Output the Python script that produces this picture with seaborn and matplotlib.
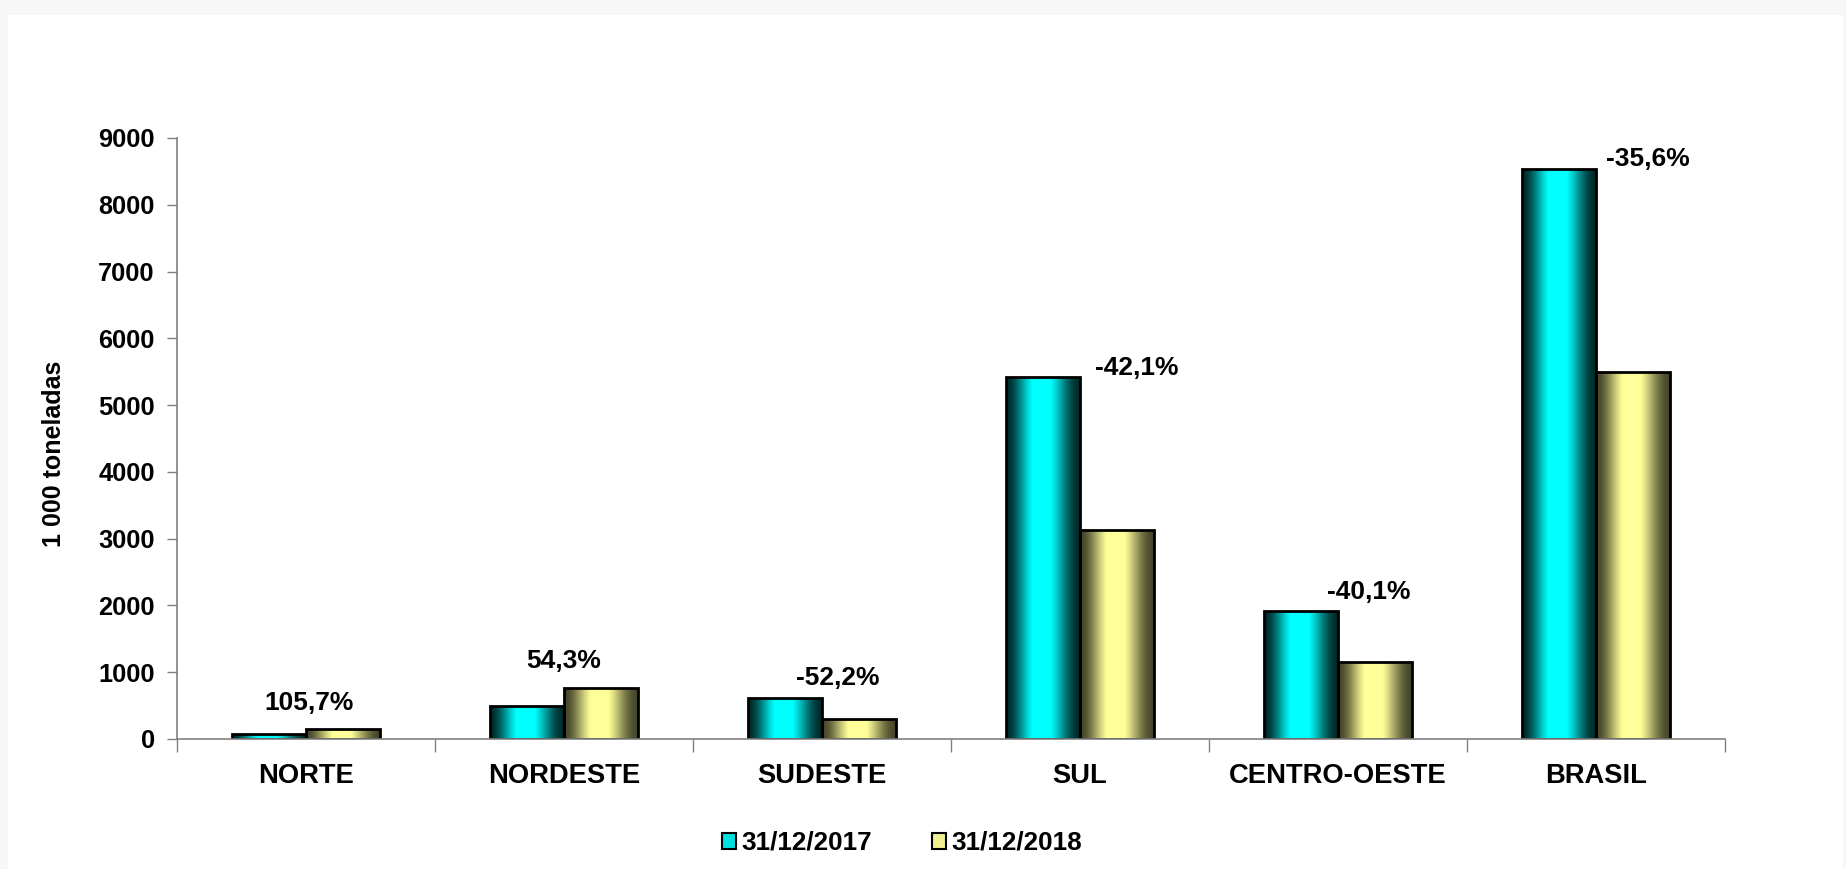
import numpy as np
import pandas as pd
import matplotlib
matplotlib.use("Agg")
import matplotlib.pyplot as plt
import seaborn as sns
from matplotlib.colors import LinearSegmentedColormap
from matplotlib.patches import Rectangle

regions = ["NORTE", "NORDESTE", "SUDESTE", "SUL", "CENTRO-OESTE", "BRASIL"]
stocks_2017 = [70, 493, 616, 5423, 1920, 8539]
stocks_2018 = [144, 761, 294, 3134, 1150, 5493]
series = ["31/12/2017", "31/12/2018"]
changes = ["105,7%", "54,3%", "-52,2%", "-42,1%", "-40,1%", "-35,6%"]

df = pd.DataFrame({
    "regiao": regions * 2,
    "data": [series[0]] * len(regions) + [series[1]] * len(regions),
    "valor": stocks_2017 + stocks_2018,
})

sns.set_style("white")
plt.rcParams["font.family"] = ["Liberation Sans", "DejaVu Sans"]
plt.rcParams["font.weight"] = "bold"
plt.rcParams["text.color"] = "black"
plt.rcParams["axes.labelcolor"] = "black"
plt.rcParams["xtick.labelcolor"] = "black"
plt.rcParams["ytick.labelcolor"] = "black"

fig = plt.figure(figsize=(18.46, 8.69), dpi=100)
fig.patch.set_facecolor("#f7f7f7")
# white panel inside the light grey frame
fig.patches.append(Rectangle((8 / 1846, 0), (1846 - 11) / 1846, (869 - 15) / 869,
                             transform=fig.transFigure, facecolor="white",
                             edgecolor="none", zorder=-10))

ax = fig.add_axes([177 / 1846, 1 - 739 / 869, (1725 - 177) / 1846, (739 - 138) / 869])
ax.set_facecolor("none")

sns.barplot(data=df, x="regiao", y="valor", hue="data", order=regions,
            hue_order=series, width=0.575, gap=0, ax=ax, legend=False,
            palette=["#00ffff", "#ffff99"], edgecolor="black", linewidth=2,
            err_kws={"linewidth": 0})

# cylinder-like shading on each bar
cmaps = [
    LinearSegmentedColormap.from_list("c", ["#002a2a", "#00ffff"]),
    LinearSegmentedColormap.from_list("y", ["#45452a", "#ffff99"]),
]
t = np.linspace(0, 1, 200)
shade = np.clip(np.sin(np.pi * (t ** 0.93)) ** 2 * 1.15, 0, 1)
n = len(regions)
for i, bar in enumerate(ax.patches[:2 * n]):
    x0, w, h = bar.get_x(), bar.get_width(), bar.get_height()
    cm = cmaps[i // n]
    img = ax.imshow(shade[None, :], cmap=cm, vmin=0, vmax=1, aspect="auto",
                    extent=[x0, x0 + w, 0, h], zorder=1.5, interpolation="bilinear")
    img.set_clip_path(bar)
    bar.set_facecolor("none")
    bar.set_zorder(2)

ax.set_xlim(-0.5, n - 0.5)
ax.set_ylim(0, 9000)
ax.set_yticks(range(0, 9001, 1000))
ax.tick_params(axis="y", labelsize=18.3, length=7, width=1, color="#808080",
               direction="out", pad=9, left=True)
ax.set_xticks(range(n))
ax.set_xticklabels(regions, fontsize=19.7, fontweight="bold")
ax.set_xticks(np.arange(-0.5, n, 1), minor=True)
ax.tick_params(axis="x", which="major", length=0, pad=17)
ax.tick_params(axis="x", which="minor", length=9, width=1, color="#808080",
               direction="out", bottom=True)
for lab in ax.get_yticklabels():
    lab.set_fontweight("bold")

sns.despine(ax=ax)
for side in ["left", "bottom"]:
    ax.spines[side].set_color("#808080")
    ax.spines[side].set_linewidth(1.2)

ax.set_xlabel("")
ax.set_ylabel("1 000 toneladas", fontsize=18, fontweight="bold")
ax.yaxis.set_label_coords(-0.072, 0.475)

# percentage change labels
dx = [0.01, 0.0, 0.06, 0.22, 0.12, 0.2]
dy = [400, 400, 300, 140, 280, 140]
for i, lab in enumerate(changes):
    top = max(stocks_2017[i], stocks_2018[i])
    ax.text(i + dx[i], top + dy[i], lab, ha="center", va="center",
            fontsize=19, fontweight="bold")

handles = [Rectangle((0, 0), 1, 1, facecolor=c, edgecolor="black", linewidth=1.5)
           for c in ["#00e0e0", "#f0f090"]]
fig.legend(handles, series, loc="center", bbox_to_anchor=(0.4885, 1 - 843 / 869),
           ncol=2, frameon=False, prop={"size": 18.8, "weight": "bold"},
           handlelength=0.55, handleheight=0.55, handletextpad=0.2, columnspacing=2.3)

fig.savefig("out.png", dpi=100, facecolor=fig.get_facecolor())
